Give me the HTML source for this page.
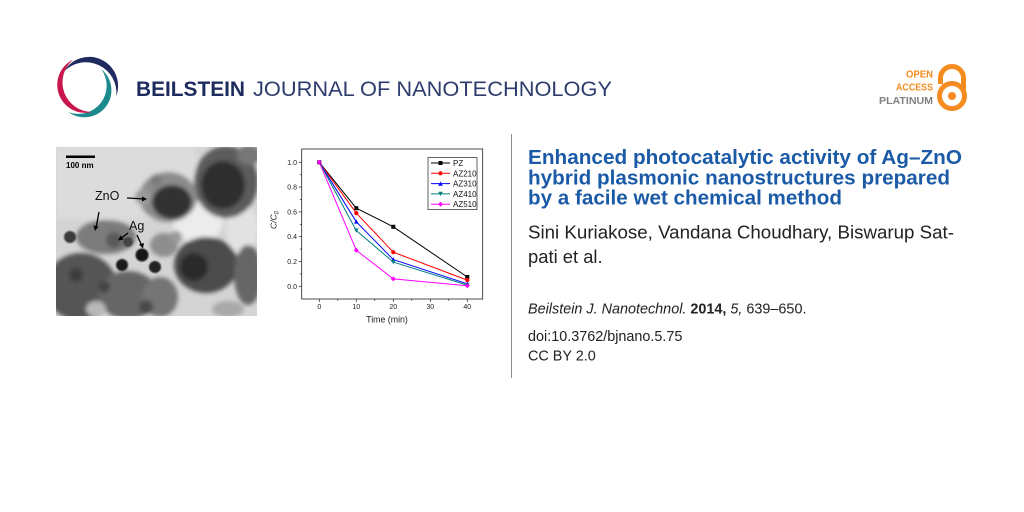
<!DOCTYPE html>
<html><head><meta charset="utf-8">
<style>
html,body{margin:0;padding:0;background:#fff;}
body{width:1024px;height:512px;overflow:hidden;}
svg{display:block;}
</style></head>
<body>
<svg width="1024" height="512" viewBox="0 0 1024 512" xmlns="http://www.w3.org/2000/svg" font-family="Liberation Sans, Arial, sans-serif">
<defs>
  <filter id="b2" x="-20%" y="-20%" width="140%" height="140%"><feGaussianBlur stdDeviation="2.2"/></filter>
  <filter id="b1" x="-20%" y="-20%" width="140%" height="140%"><feGaussianBlur stdDeviation="0.8"/></filter>
  <clipPath id="tc"><rect x="0" y="0" width="201" height="169"/></clipPath>
</defs>
<rect width="1024" height="512" fill="#fff"/>

<!-- Logo swirl -->
<g transform="translate(87,87)">
  <path d="M -23.1 -15.5 A 29 29 0 0 1 29.3 8.9 A 30.6 30.6 0 0 0 -23.1 -15.5 Z" fill="#1f2b5e"/>
  <path d="M 14.4 -17.7 A 27 27 0 0 1 -18.5 25.1 A 28.2 28.2 0 0 0 14.4 -17.7 Z" fill="#1b8a8c"/>
  <path d="M -13.8 -27.4 A 28 28 0 0 0 5.2 25.0 A 29.6 29.6 0 0 1 -13.8 -27.4 Z" fill="#c8174d"/>
</g>
<text x="136" y="96" font-size="21" font-weight="bold" fill="#1e2b5e" textLength="109" lengthAdjust="spacingAndGlyphs">BEILSTEIN</text>
<text x="253" y="96" font-size="21" fill="#2e3d6e" textLength="359" lengthAdjust="spacingAndGlyphs">JOURNAL OF NANOTECHNOLOGY</text>

<!-- Open access -->
<text x="933" y="77.5" font-size="10.5" font-weight="bold" fill="#f68b1f" text-anchor="end" textLength="27" lengthAdjust="spacingAndGlyphs">OPEN</text>
<text x="933" y="90.5" font-size="10.5" font-weight="bold" fill="#f68b1f" text-anchor="end" textLength="37" lengthAdjust="spacingAndGlyphs">ACCESS</text>
<text x="933" y="104" font-size="10.5" font-weight="bold" fill="#808080" text-anchor="end" textLength="54" lengthAdjust="spacingAndGlyphs">PLATINUM</text>
<path d="M 940.5 84 L 940.5 78 A 11.5 11.5 0 0 1 963.5 78 L 963.5 90" fill="none" stroke="#f68b1f" stroke-width="5"/>
<circle cx="952" cy="96" r="12.5" fill="none" stroke="#f68b1f" stroke-width="5"/>
<circle cx="952" cy="96" r="4" fill="#f68b1f"/>

<!-- TEM image -->
<g transform="translate(56,147)">
 <g clip-path="url(#tc)">
  <rect width="201" height="169" fill="#d4d4d4"/>
  <g filter="url(#b2)">
    <rect x="0" y="0" width="140" height="72" fill="#dcdcdc"/>
    <ellipse cx="142" cy="75" rx="25" ry="20" fill="#ececec"/>
    <ellipse cx="186" cy="82" rx="16" ry="24" fill="#e2e2e2"/>
    <ellipse cx="170" cy="35" rx="32" ry="36" fill="#5c5c5c"/>
    <ellipse cx="167" cy="38" rx="22" ry="24" fill="#2e2e2e"/>
    <ellipse cx="193" cy="8" rx="12" ry="10" fill="#777"/>
    <ellipse cx="112" cy="50" rx="29" ry="25" fill="#8c8c8c"/>
    <ellipse cx="116" cy="55" rx="20" ry="17" fill="#333"/>
    <circle cx="100" cy="33" r="6" fill="#7a7a7a"/>
    <circle cx="87" cy="50" r="8" fill="#9a9a9a"/>
    <ellipse cx="50" cy="90" rx="30" ry="17" fill="#7c7c7c"/>
    <circle cx="58" cy="93" r="8" fill="#5a5a5a"/>
    <ellipse cx="108" cy="98" rx="14" ry="12" fill="#8e8e8e"/>
    <ellipse cx="150" cy="118" rx="32" ry="28" fill="#4c4c4c"/>
    <ellipse cx="138" cy="120" rx="14" ry="14" fill="#2a2a2a"/>
    <ellipse cx="25" cy="140" rx="36" ry="34" fill="#555"/>
    <ellipse cx="72" cy="148" rx="30" ry="24" fill="#666"/>
    <ellipse cx="104" cy="150" rx="18" ry="20" fill="#747474"/>
    <ellipse cx="192" cy="128" rx="14" ry="30" fill="#666"/>
    <ellipse cx="40" cy="162" rx="10" ry="8" fill="#b8b8b8"/>
    <ellipse cx="172" cy="162" rx="16" ry="8" fill="#a8a8a8"/>
    <ellipse cx="120" cy="90" rx="6" ry="6" fill="#999"/>
    <circle cx="20" cy="128" r="7" fill="#3d3d3d"/>
    <circle cx="48" cy="140" r="6" fill="#444"/>
    <circle cx="90" cy="160" r="7" fill="#4a4a4a"/>
  </g>
  <g filter="url(#b1)">
    <circle cx="14" cy="90" r="6" fill="#3a3a3a"/>
    <circle cx="66" cy="118" r="6" fill="#1e1e1e"/>
    <circle cx="86" cy="108" r="6.5" fill="#151515"/>
    <circle cx="99" cy="120" r="6" fill="#222"/>
    <circle cx="72" cy="95" r="5" fill="#444"/>
  </g>
  <rect x="10" y="8.5" width="29" height="2.5" fill="#000"/>
  <text x="10" y="21" font-size="8" font-weight="bold" fill="#000">100 nm</text>
  <text x="39" y="53" font-size="12.5" fill="#111">ZnO</text>
  <line x1="71" y1="51" x2="89" y2="52" stroke="#000" stroke-width="1.3"/>
  <path d="M 91 52 L 86 49.5 L 86 54.5 Z" fill="#000"/>
  <text x="73" y="83" font-size="12.5" fill="#111">Ag</text>
  <line x1="43" y1="65" x2="40" y2="81" stroke="#000" stroke-width="1.3"/>
  <path d="M 39 84 L 37.5 78.5 L 42.5 79.5 Z" fill="#000"/>
  <line x1="72" y1="86" x2="64" y2="92" stroke="#000" stroke-width="1.3"/>
  <path d="M 62 93.5 L 64.5 88.5 L 67.5 92.5 Z" fill="#000"/>
  <line x1="81" y1="88" x2="86" y2="99" stroke="#000" stroke-width="1.3"/>
  <path d="M 87 101.5 L 83 97.5 L 88 96 Z" fill="#000"/>
 </g>
</g>

<!-- Chart -->
<g font-size="7" fill="#222">
  <rect x="301.7" y="149" width="181" height="150" fill="none" stroke="#222" stroke-width="0.8"/>
  <g stroke="#222" stroke-width="0.7">
    <line x1="319.3" y1="299" x2="319.3" y2="302"/>
    <line x1="356.3" y1="299" x2="356.3" y2="302"/>
    <line x1="393.3" y1="299" x2="393.3" y2="302"/>
    <line x1="430.3" y1="299" x2="430.3" y2="302"/>
    <line x1="467.3" y1="299" x2="467.3" y2="302"/>
    <line x1="337.8" y1="299" x2="337.8" y2="300.8"/>
    <line x1="374.8" y1="299" x2="374.8" y2="300.8"/>
    <line x1="411.8" y1="299" x2="411.8" y2="300.8"/>
    <line x1="448.8" y1="299" x2="448.8" y2="300.8"/>
    <line x1="301.7" y1="162.3" x2="298.7" y2="162.3"/>
    <line x1="301.7" y1="187.1" x2="298.7" y2="187.1"/>
    <line x1="301.7" y1="211.9" x2="298.7" y2="211.9"/>
    <line x1="301.7" y1="236.7" x2="298.7" y2="236.7"/>
    <line x1="301.7" y1="261.5" x2="298.7" y2="261.5"/>
    <line x1="301.7" y1="286.3" x2="298.7" y2="286.3"/>
    <line x1="301.7" y1="174.7" x2="299.9" y2="174.7"/>
    <line x1="301.7" y1="199.5" x2="299.9" y2="199.5"/>
    <line x1="301.7" y1="224.3" x2="299.9" y2="224.3"/>
    <line x1="301.7" y1="249.1" x2="299.9" y2="249.1"/>
    <line x1="301.7" y1="273.9" x2="299.9" y2="273.9"/>
  </g>
  <g text-anchor="middle">
    <text x="319.3" y="309">0</text>
    <text x="356.3" y="309">10</text>
    <text x="393.3" y="309">20</text>
    <text x="430.3" y="309">30</text>
    <text x="467.3" y="309">40</text>
  </g>
  <g text-anchor="end">
    <text x="297" y="164.8">1.0</text>
    <text x="297" y="189.6">0.8</text>
    <text x="297" y="214.4">0.6</text>
    <text x="297" y="239.2">0.4</text>
    <text x="297" y="264">0.2</text>
    <text x="297" y="288.8">0.0</text>
  </g>
  <text x="387" y="322.5" font-size="8.8" text-anchor="middle">Time (min)</text>
  <text transform="translate(276.5,220) rotate(-90)" font-size="8.5" text-anchor="middle" font-style="italic">C/C<tspan font-size="6" dy="2">0</tspan></text>

  <polyline points="319.3,162.3 356.3,208.2 393.3,226.8 467.3,277" fill="none" stroke="#000" stroke-width="1"/>
  <polyline points="319.3,162.3 356.3,213.1 393.3,252.2 467.3,280.1" fill="none" stroke="#ff0000" stroke-width="1"/>
  <polyline points="319.3,162.3 356.3,221.8 393.3,259.6 467.3,283.8" fill="none" stroke="#0000ff" stroke-width="1"/>
  <polyline points="319.3,162.3 356.3,230.5 393.3,262.1 467.3,285.1" fill="none" stroke="#008080" stroke-width="1"/>
  <polyline points="319.3,162.3 356.3,250.3 393.3,278.9 467.3,285.7" fill="none" stroke="#ff00ff" stroke-width="1"/>
  <g fill="#000">
    <rect x="317.3" y="160.3" width="4" height="4"/><rect x="354.3" y="206.2" width="4" height="4"/><rect x="391.3" y="224.8" width="4" height="4"/><rect x="465.3" y="275" width="4" height="4"/>
  </g>
  <g fill="#ff0000">
    <circle cx="356.3" cy="213.1" r="2.1"/><circle cx="393.3" cy="252.2" r="2.1"/><circle cx="467.3" cy="280.1" r="2.1"/>
  </g>
  <g fill="#0000ff">
    <path d="M356.3 219.4 L358.6 223.6 L354 223.6 Z"/><path d="M393.3 257.2 L395.6 261.4 L391 261.4 Z"/><path d="M467.3 281.4 L469.6 285.6 L465 285.6 Z"/>
  </g>
  <g fill="#008080">
    <path d="M356.3 232.7 L358.6 228.5 L354 228.5 Z"/><path d="M393.3 264.3 L395.6 260.1 L391 260.1 Z"/><path d="M467.3 287.3 L469.6 283.1 L465 283.1 Z"/>
  </g>
  <g fill="#ff00ff">
    <path d="M319.3 159.8 L321.8 162.3 L319.3 164.8 L316.8 162.3 Z"/>
    <path d="M356.3 247.8 L358.8 250.3 L356.3 252.8 L353.8 250.3 Z"/>
    <path d="M393.3 276.4 L395.8 278.9 L393.3 281.4 L390.8 278.9 Z"/>
    <path d="M467.3 283.2 L469.8 285.7 L467.3 288.2 L464.8 285.7 Z"/>
  </g>

  <rect x="428" y="157.5" width="49" height="52" fill="#fff" stroke="#222" stroke-width="0.7"/>
  <g stroke-width="1">
    <line x1="431" y1="163" x2="450" y2="163" stroke="#000"/>
    <line x1="431" y1="173.3" x2="450" y2="173.3" stroke="#ff0000"/>
    <line x1="431" y1="183.6" x2="450" y2="183.6" stroke="#0000ff"/>
    <line x1="431" y1="193.9" x2="450" y2="193.9" stroke="#008080"/>
    <line x1="431" y1="204.2" x2="450" y2="204.2" stroke="#ff00ff"/>
  </g>
  <rect x="438.5" y="161" width="4" height="4" fill="#000"/>
  <circle cx="440.5" cy="173.3" r="2.1" fill="#ff0000"/>
  <path d="M440.5 181.5 L442.8 185.7 L438.2 185.7 Z" fill="#0000ff"/>
  <path d="M440.5 196 L442.8 191.8 L438.2 191.8 Z" fill="#008080"/>
  <path d="M440.5 201.7 L443 204.2 L440.5 206.7 L438 204.2 Z" fill="#ff00ff"/>
  <g font-size="8" fill="#111">
    <text x="453" y="166">PZ</text>
    <text x="453" y="176.3">AZ210</text>
    <text x="453" y="186.6">AZ310</text>
    <text x="453" y="196.9">AZ410</text>
    <text x="453" y="207.2">AZ510</text>
  </g>
</g>

<!-- divider -->
<line x1="511.5" y1="134" x2="511.5" y2="378" stroke="#8c8c8c" stroke-width="1"/>

<!-- Title -->
<g font-size="20.5" font-weight="bold" fill="#1a5aa6">
  <text x="528" y="164" textLength="434" lengthAdjust="spacingAndGlyphs">Enhanced photocatalytic activity of Ag–ZnO</text>
  <text x="528" y="184.3" textLength="422" lengthAdjust="spacingAndGlyphs">hybrid plasmonic nanostructures prepared</text>
  <text x="528" y="204.6" textLength="314" lengthAdjust="spacingAndGlyphs">by a facile wet chemical method</text>
</g>
<g font-size="18.4" fill="#222">
  <text x="528" y="238.5" textLength="426" lengthAdjust="spacingAndGlyphs">Sini Kuriakose, Vandana Choudhary, Biswarup Sat-</text>
  <text x="528" y="263">pati et al.</text>
</g>
<g font-size="14.4" fill="#222">
  <text x="528" y="313.5"><tspan font-style="italic">Beilstein J. Nanotechnol.</tspan> <tspan font-weight="bold">2014,</tspan> <tspan font-style="italic">5,</tspan> 639–650.</text>
  <text x="528" y="341">doi:10.3762/bjnano.5.75</text>
  <text x="528" y="360.5">CC BY 2.0</text>
</g>
</svg>
</body></html>
